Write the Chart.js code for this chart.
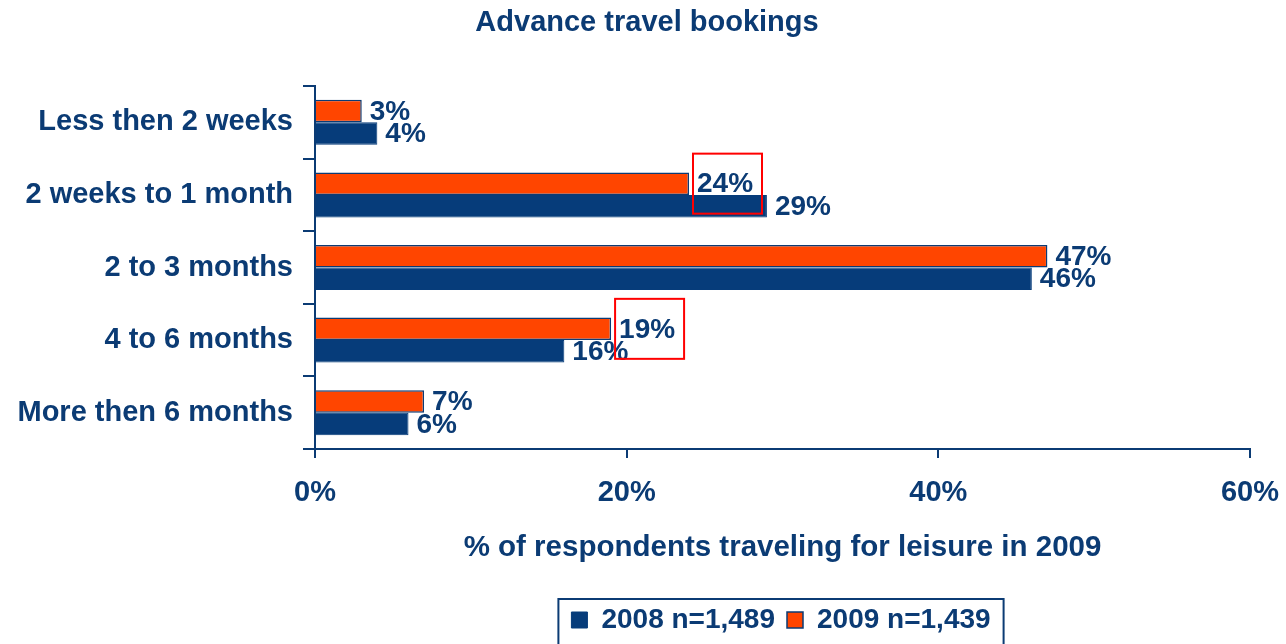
<!DOCTYPE html>
<html>
<head>
<meta charset="utf-8">
<script src="https://cdn.jsdelivr.net/npm/chart.js@4"></script>
<style>
  html, body { margin: 0; padding: 0; background: #ffffff; }
  #wrap { width: 1286px; height: 644px; position: relative; }
</style>
</head>
<body>
<div id="wrap"><canvas id="c" width="1286" height="644"></canvas></div>
<script>
const categories = ['Less then 2 weeks', '2 weeks to 1 month', '2 to 3 months', '4 to 6 months', 'More then 6 months'];
const values2009 = [3, 24, 47, 19, 7];
const values2008 = [4, 29, 46, 16, 6];
const seriesNames = ['2009 n=1,439', '2008 n=1,489'];
const xTicks = [0, 20, 40, 60];
const highlighted = [1, 3]; // category indexes of the 2009 labels boxed in red

const NAVY = '#0b3b74';
const BAR_BLUE = '#063c7a';
const ORANGE = '#ff4500';
const FONT = '"Liberation Sans", Arial, sans-serif';

const labelPlugin = {
  id: 'valueLabels',
  afterLayout(chart) {
    if (chart.titleBlock) { chart.titleBlock.left += 22; chart.titleBlock.right += 22; }
    if (chart.legend) { chart.legend.left += 156; chart.legend.right += 156; }
  },
  afterDatasetsDraw(chart) {
    const ctx = chart.ctx;
    ctx.save();
    ctx.font = 'bold 28px ' + FONT;
    ctx.fillStyle = NAVY;
    ctx.textAlign = 'left';
    ctx.textBaseline = 'middle';
    chart.data.datasets.forEach((ds, di) => {
      const meta = chart.getDatasetMeta(di);
      meta.data.forEach((el, i) => {
        ctx.fillText(ds.data[i] + '%', el.x + 8, el.y + 1);
      });
    });
    const meta0 = chart.getDatasetMeta(0);
    ctx.strokeStyle = '#ff0000';
    ctx.lineWidth = 2;
    highlighted.forEach(i => {
      const el = meta0.data[i];
      ctx.strokeRect(el.x + 4, el.y - 30, 69, 60);
    });
    ctx.restore();
  },
  afterDraw(chart) {
    const lg = chart.legend;
    if (!lg || !lg.legendHitBoxes || !lg.legendHitBoxes.length) return;
    const hb = lg.legendHitBoxes;
    const left = hb[0].left - 13;
    const last = hb[hb.length - 1];
    const right = last.left + last.width + 13;
    const top = lg.top + 5;
    const ctx = chart.ctx;
    ctx.save();
    ctx.strokeStyle = NAVY;
    ctx.lineWidth = 2;
    ctx.strokeRect(left, top, right - left, chart.height - top + 10);
    ctx.restore();
  }
};

new Chart(document.getElementById('c'), {
  type: 'bar',
  data: {
    labels: categories,
    datasets: [
      { label: seriesNames[0], data: values2009, backgroundColor: ORANGE, borderColor: NAVY, borderWidth: 1.5 },
      { label: seriesNames[1], data: values2008, backgroundColor: BAR_BLUE, borderColor: BAR_BLUE, borderWidth: 1 }
    ]
  },
  options: {
    indexAxis: 'y',
    responsive: false,
    animation: false,
    datasets: { bar: { categoryPercentage: 0.62, barPercentage: 1.0 } },
    layout: { padding: { left: 0, right: 36, top: 0, bottom: 0 } },
    plugins: {
      title: {
        display: true,
        text: 'Advance travel bookings',
        color: NAVY,
        font: { family: FONT, size: 29, weight: 'bold' },
        padding: { top: 6, bottom: 45.2 }
      },
      legend: {
        position: 'bottom',
        labels: {
          color: NAVY,
          font: { family: FONT, size: 28, weight: 'bold' },
          boxWidth: 16,
          boxHeight: 16,
          padding: 12,
          sort: (a, b) => b.datasetIndex - a.datasetIndex
        }
      },
      tooltip: { enabled: false }
    },
    scales: {
      x: {
        min: 0,
        max: 60,
        afterBuildTicks: (scale) => { scale.ticks = xTicks.map(v => ({ value: v })); },
        afterFit: (scale) => { scale.height = 145; scale.paddingLeft = 0; scale.paddingRight = 0; },
        ticks: {
          color: NAVY,
          font: { family: FONT, size: 29, weight: 'bold' },
          padding: 18,
          maxRotation: 0,
          callback: (v) => v + '%'
        },
        grid: { drawOnChartArea: false, drawTicks: true, tickLength: 9, color: NAVY, lineWidth: 2 },
        border: { display: true, color: NAVY, width: 2 },
        title: {
          display: true,
          text: '% of respondents traveling for leisure in 2009',
          color: NAVY,
          font: { family: FONT, size: 29.5, weight: 'bold' },
          padding: { top: 0, bottom: 28 }
        }
      },
      y: {
        afterFit: (scale) => { scale.width = 315; },
        ticks: {
          color: NAVY,
          font: { family: FONT, size: 29, weight: 'bold' },
          padding: 10
        },
        grid: { drawOnChartArea: false, drawTicks: true, tickLength: 12, color: NAVY, lineWidth: 2, offset: true },
        border: { display: true, color: NAVY, width: 2 }
      }
    }
  },
  plugins: [labelPlugin]
});
</script>
</body>
</html>
